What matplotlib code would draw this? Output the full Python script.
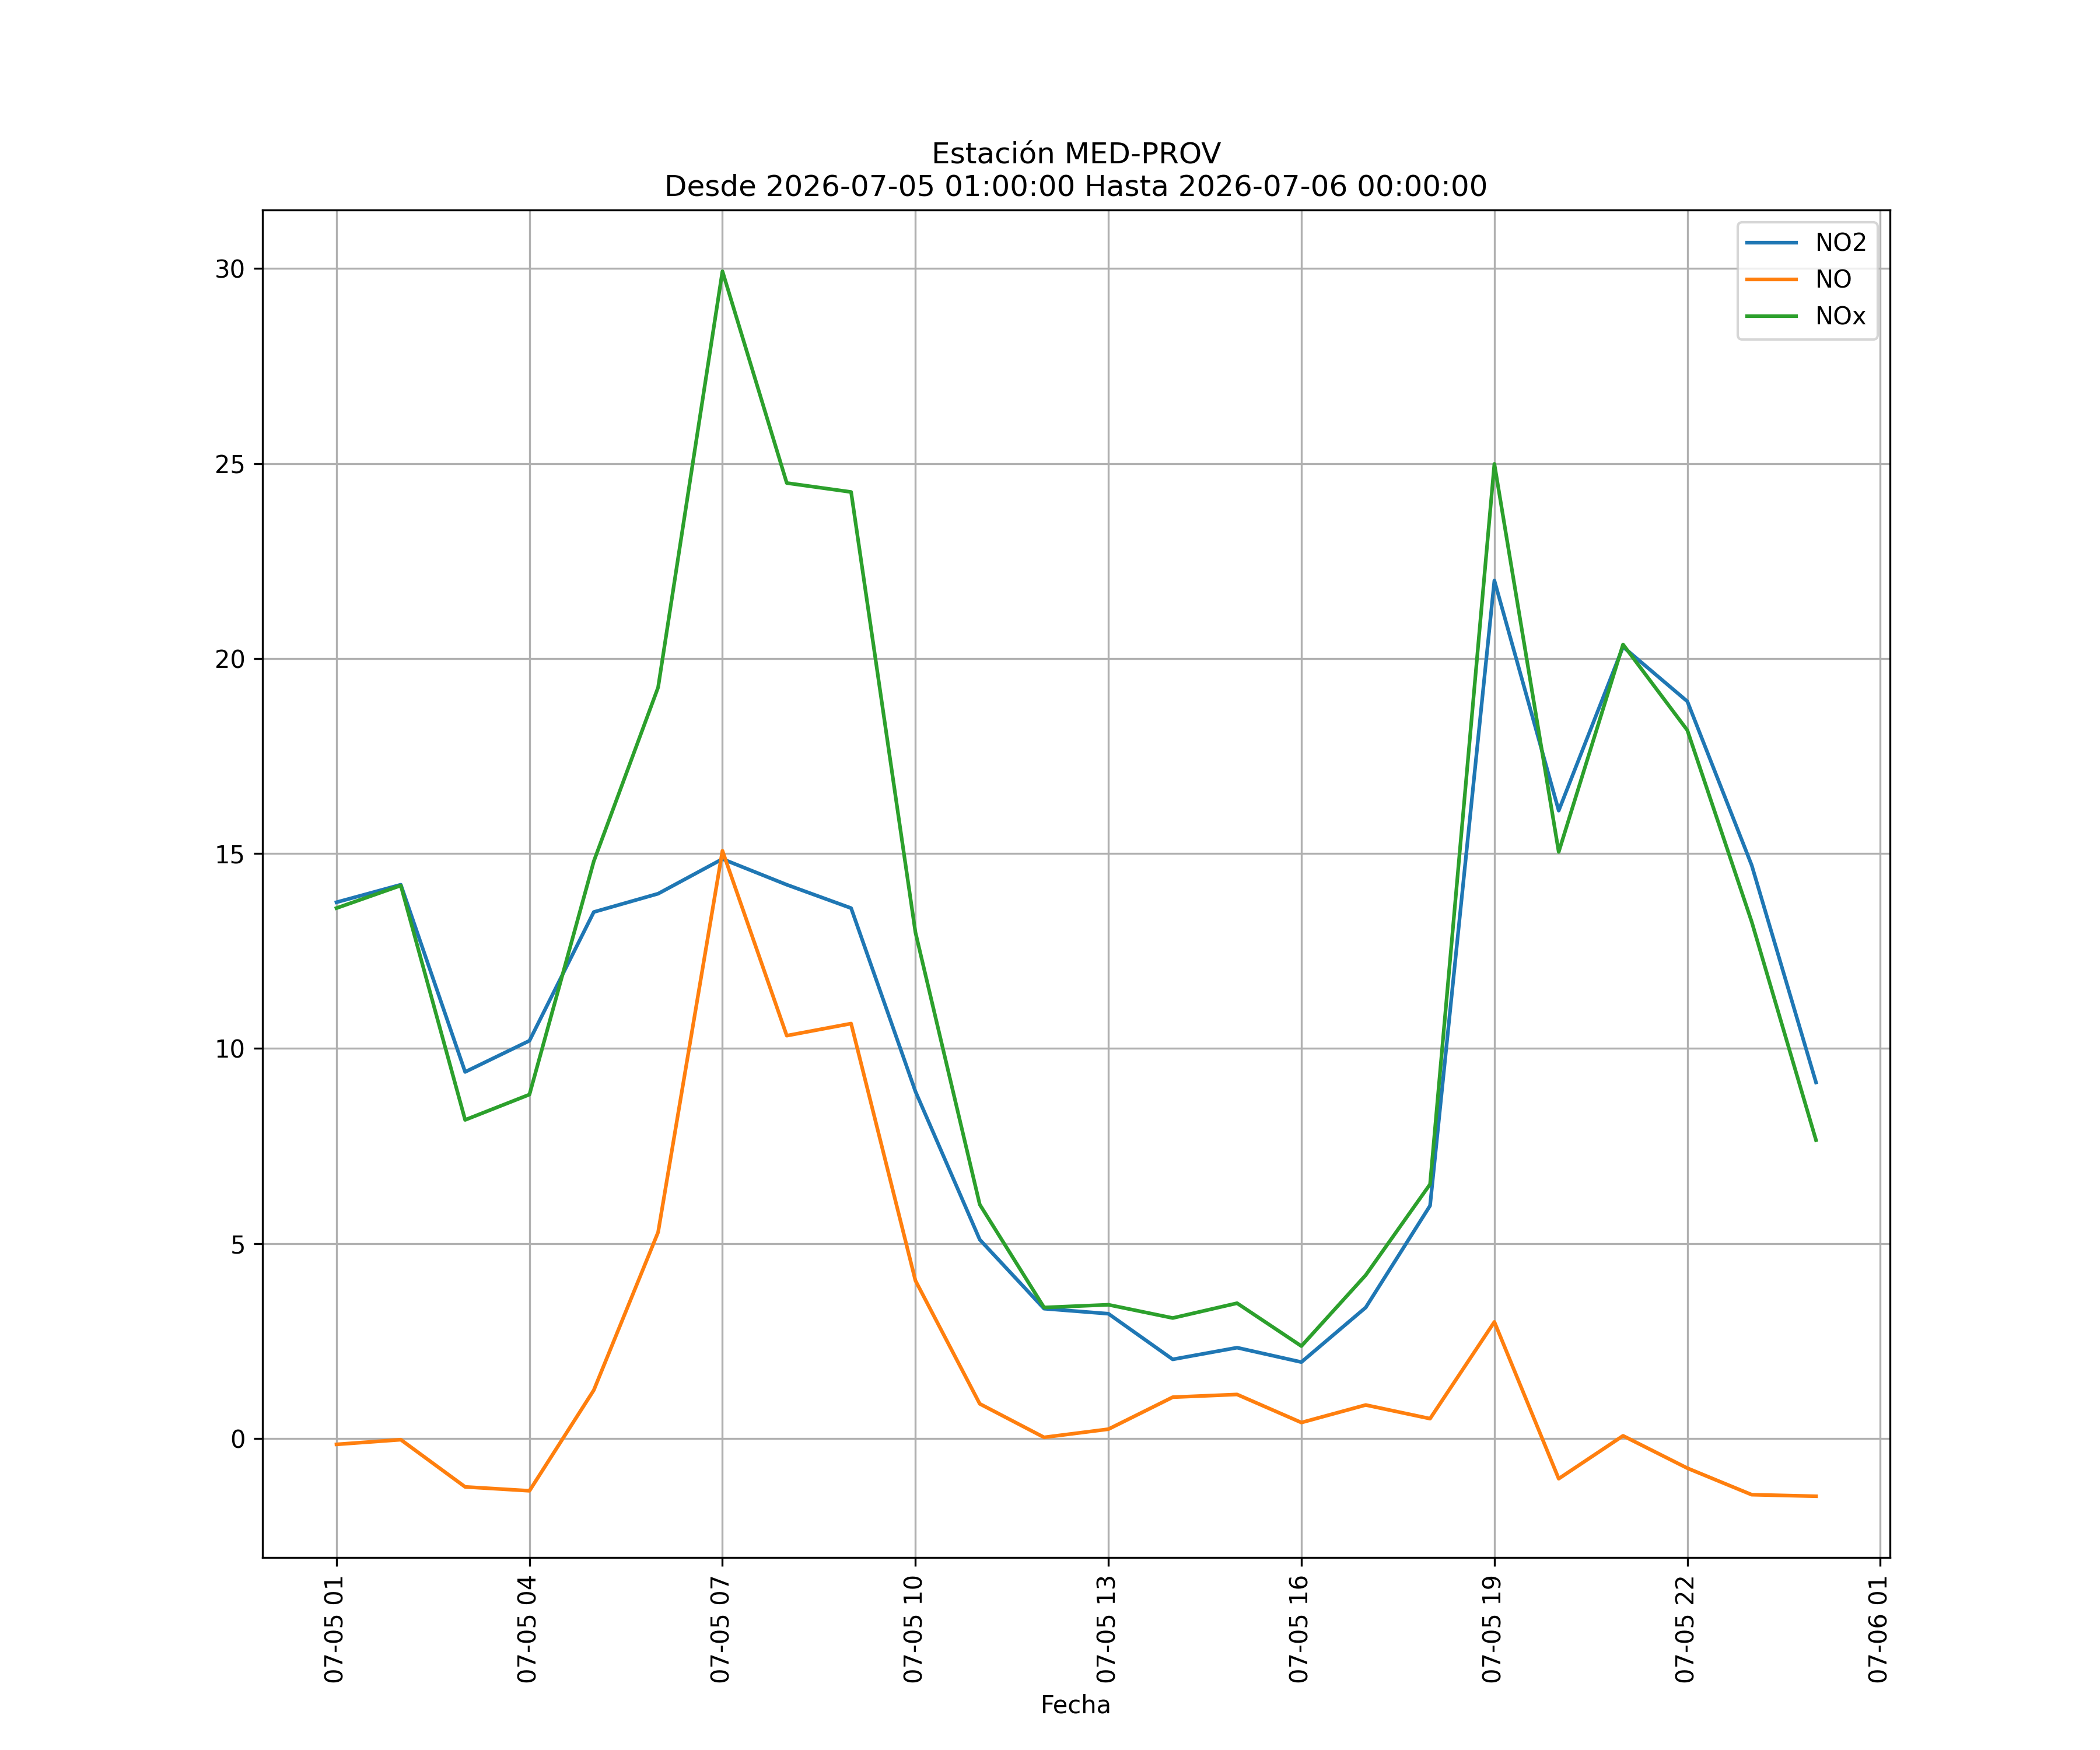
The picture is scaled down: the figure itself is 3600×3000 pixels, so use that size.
import matplotlib
matplotlib.use('Agg')
import matplotlib.pyplot as plt
import matplotlib.dates as mdates
import pandas as pd

# datos horarios de la estación
fechas = pd.date_range('2026-07-05 01:00:00', '2026-07-06 00:00:00', freq='h')

no2 = [13.75, 14.2, 9.4, 10.2, 13.5, 13.97, 14.86, 14.2, 13.6, 8.9, 5.1, 3.33,
       3.2, 2.03, 2.33, 1.96, 3.36, 5.97, 22.0, 16.1, 20.3, 18.9, 14.7, 9.13]
no = [-0.15, -0.03, -1.24, -1.34, 1.24, 5.29, 15.07, 10.33, 10.64, 4.05, 0.89, 0.03,
      0.24, 1.06, 1.13, 0.41, 0.86, 0.51, 2.99, -1.03, 0.07, -0.76, -1.44, -1.48]
nox = [13.6, 14.18, 8.17, 8.82, 14.8, 19.26, 29.93, 24.5, 24.27, 12.98, 6.0, 3.36,
       3.43, 3.09, 3.47, 2.37, 4.19, 6.52, 24.99, 15.04, 20.36, 18.16, 13.25, 7.65]

fig, ax = plt.subplots(figsize=(12, 10))

ax.plot(fechas, no2, label='NO2')
ax.plot(fechas, no, label='NO')
ax.plot(fechas, nox, label='NOx')

ax.set_title('Estación MED-PROV\nDesde 2026-07-05 01:00:00 Hasta 2026-07-06 00:00:00')
ax.set_xlabel('Fecha')
ax.xaxis.set_major_locator(mdates.HourLocator(byhour=range(1, 24, 3)))
ax.xaxis.set_major_formatter(mdates.DateFormatter('%m-%d %H'))
plt.setp(ax.get_xticklabels(), rotation=90)
ax.grid(True)
ax.legend(loc='upper right')

plt.savefig('out.png', dpi=300)
